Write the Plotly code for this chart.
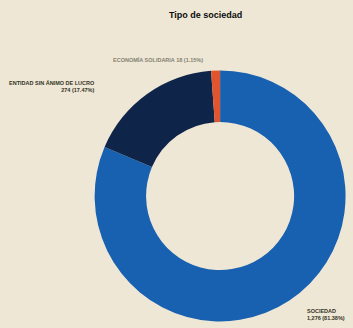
import plotly.graph_objs as go

# data
labels = ['SOCIEDAD', 'ENTIDAD SIN ÁNIMO DE LUCRO', 'ECONOMÍA SOLIDARIA']
values = [1276, 274, 18]
colors = ['#1860b0', '#0e2448', '#e0552e']
title = 'Tipo de sociedad'

total = sum(values)
pct = [v / total * 100 for v in values]

pie = go.Pie(labels=labels, values=values, hole=0.59, sort=True,
             direction='clockwise', rotation=0,
             marker=dict(colors=colors, line=dict(width=0)),
             textinfo='none', hoverinfo='label+value+percent',
             domain=dict(x=[0.268, 0.979], y=[0.02, 0.785]),
             showlegend=False)

lab_font = dict(family='Liberation Sans', size=5.5, color='#35331f')

ann = []
ann.append(dict(text='<b>%s</b>' % title, x=205 / 353, y=1 - 15 / 328, xref='paper', yref='paper',
                showarrow=False, font=dict(family='Liberation Sans', size=9, color='#0c0c0c'),
                xanchor='center', yanchor='middle'))
# economia solidaria - one line above the ring
ann.append(dict(text='<b>%s %d (%.2f%%)</b>' % (labels[2], values[2], pct[2]),
                x=205 / 353, y=1 - 60 / 328, xref='paper', yref='paper', showarrow=False,
                font=dict(family='Liberation Sans', size=5.5, color='#858170'),
                xanchor='right', yanchor='middle'))
# entidad sin animo de lucro - two lines, right aligned
ann.append(dict(text='<b>%s<br>%d (%.2f%%)</b>' % (labels[1], values[1], pct[1]),
                x=97 / 353, y=1 - 86 / 328, xref='paper', yref='paper', showarrow=False,
                font=lab_font, align='right', xanchor='right', yanchor='middle'))
# sociedad - bottom right, runs off the page
ann.append(dict(text='<b>%s<br>%s (%.2f%%)</b>' % (labels[0], format(values[0], ','), pct[0]),
                x=305 / 353, y=1 - 314 / 328, xref='paper', yref='paper', showarrow=False,
                font=lab_font, align='left', xanchor='left', yanchor='middle'))

layout = go.Layout(width=353, height=328, margin=dict(l=0, r=0, t=0, b=0),
                   paper_bgcolor='#eee7d6', plot_bgcolor='#eee7d6',
                   annotations=ann)

fig = go.Figure(data=[pie], layout=layout)
fig.write_html('out.html', config={'displayModeBar': False},
               post_script="document.body.style.margin='0';document.body.style.background='#eee7d6';")
